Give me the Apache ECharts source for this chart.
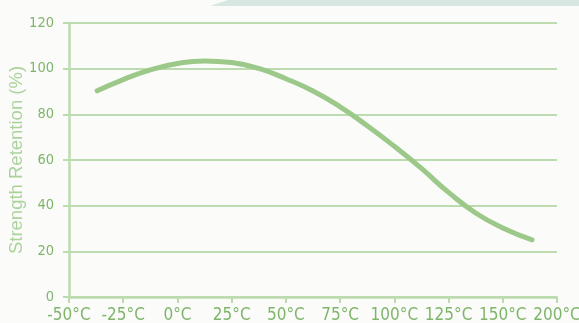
<!DOCTYPE html>
<html>
<head>
<meta charset="utf-8">
<script src="https://cdn.jsdelivr.net/npm/echarts@6/dist/echarts.min.js"></script>
<style>
html,body{margin:0;padding:0;background:#fbfcfa;}
#c{width:579px;height:323px;}
</style>
</head>
<body>
<div id="c"></div>
<script>
// Tick labels (positions -50..175 step 25; last tick is labelled 200°C in the source)
var tickValues = [-50, -25, 0, 25, 50, 75, 100, 125, 150, 175];
var tickLabels = ['-50°C', '-25°C', '0°C', '25°C', '50°C', '75°C', '100°C', '125°C', '150°C', '200°C'];
// Curve: temperature (axis position) and strength retention (%)
var temps = [-37, -25, -12.5, 0, 12.5, 25, 37.5, 50, 62.5, 75, 87.5, 100, 112.5, 125, 137.5, 150, 163.5];
var retention = [90.3, 95.2, 99.5, 102.3, 103.4, 102.7, 100.1, 95.6, 90.2, 83.3, 75, 66, 56.3, 45.8, 36.8, 30.2, 25];
var yTicks = [0, 20, 40, 60, 80, 100, 120];

var green = '#7fb56b';
var light = '#bcdbaf';
var tickFont = "'Liberation Sans Narrow', 'DejaVu Sans Condensed', 'Liberation Sans', sans-serif";
var chart = echarts.init(document.getElementById('c'));
chart.setOption({
  backgroundColor: '#fbfcfa',
  animation: false,
  graphic: [{
    type: 'polygon',
    shape: { points: [[228, 0], [579, 0], [579, 6], [210, 6]] },
    style: { fill: '#d6e7e1' }
  }],
  grid: { left: 69, right: 22, top: 23, bottom: 26, outerBoundsMode: 'none', containLabel: false },
  xAxis: {
    type: 'value',
    min: tickValues[0], max: tickValues[tickValues.length - 1], interval: 25,
    axisLine: { onZero: false, lineStyle: { color: light, width: 2.5 } },
    axisTick: { show: true, length: 6, lineStyle: { color: light, width: 2 } },
    splitLine: { show: false },
    axisLabel: {
      color: green, fontFamily: tickFont, fontSize: 17, margin: 10,
      formatter: function (v) { var i = tickValues.indexOf(v); return i >= 0 ? tickLabels[i] : ''; }
    }
  },
  yAxis: {
    type: 'value', min: yTicks[0], max: yTicks[yTicks.length - 1], interval: 20,
    name: 'Strength Retention (%)', nameLocation: 'middle', nameGap: 43, nameMoveOverlap: false,
    nameTextStyle: { color: '#acd29c', fontFamily: 'Liberation Sans', fontSize: 18.5 },
    axisLine: { show: true, onZero: false, lineStyle: { color: light, width: 2.5 } },
    axisTick: { show: true, length: 6, lineStyle: { color: light, width: 2 } },
    splitLine: { show: true, lineStyle: { color: light, width: 2 } },
    axisLabel: { color: green, fontFamily: tickFont, fontSize: 14.5, margin: 15 }
  },
  series: [{
    type: 'line', smooth: 0.5, symbol: 'none',
    data: temps.map(function (t, i) { return [t, retention[i]]; }),
    lineStyle: { color: '#9cc98a', width: 5, cap: 'round' }
  }]
});
</script>
</body>
</html>
